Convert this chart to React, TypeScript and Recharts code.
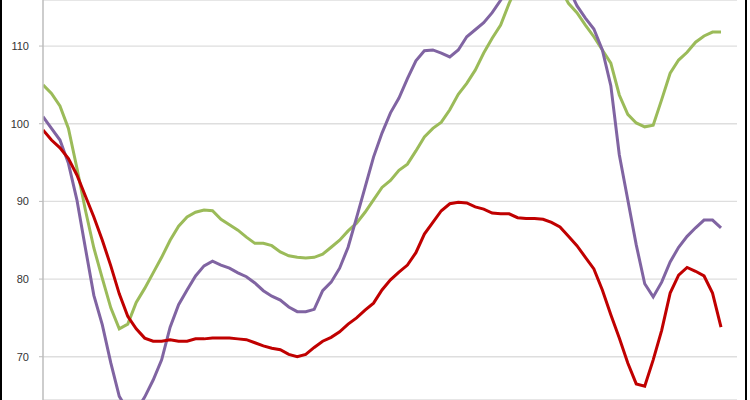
import React from "react";
import { LineChart, Line, XAxis, YAxis, CartesianGrid } from "recharts";

const greenValues = [
  105.0, 103.9, 102.3, 99.4, 94.3, 88.9, 84.0, 80.1, 76.3, 73.6,
  74.2, 77.0, 78.8, 80.8, 82.8, 85.0, 86.8, 88.0, 88.6, 88.9,
  88.8, 87.7, 87.0, 86.3, 85.4, 84.6, 84.6, 84.3, 83.5, 83.0,
  82.8, 82.7, 82.8, 83.2, 84.1, 85.0, 86.2, 87.2, 88.6, 90.2,
  91.8, 92.7, 94.0, 94.8, 96.5, 98.3, 99.4, 100.2, 101.8, 103.8,
  105.2, 106.9, 109.1, 111.0, 112.7, 115.5, 117.9, 119.1, 119.8, 119.8,
  119.1, 117.5, 115.5, 114.3, 112.7, 111.2, 109.5, 107.8, 103.7, 101.2,
  100.1, 99.6, 99.8, 103.1, 106.5, 108.2, 109.2, 110.5, 111.3, 111.8,
  111.8,
];

const purpleValues = [
  100.9, 99.4, 97.9, 94.9, 90.2, 84.0, 77.9, 74.1, 69.2, 64.9,
  63.1, 63.1, 64.8, 67.0, 69.6, 73.8, 76.7, 78.6, 80.4, 81.7,
  82.3, 81.8, 81.4, 80.8, 80.3, 79.5, 78.5, 77.8, 77.3, 76.4,
  75.8, 75.8, 76.1, 78.5, 79.6, 81.4, 84.1, 87.9, 91.8, 95.7,
  98.8, 101.4, 103.3, 105.8, 108.1, 109.4, 109.5, 109.1, 108.6, 109.5,
  111.2, 112.1, 113.0, 114.3, 115.9, 117.6, 119.0, 120.0, 120.7, 120.8,
  120.4, 119.3, 117.5, 115.2, 113.6, 112.2, 109.5, 104.9, 96.0, 90.2,
  84.4, 79.4, 77.7, 79.6, 82.2, 84.1, 85.5, 86.6, 87.6, 87.6,
  86.6,
];

const redValues = [
  99.2, 97.9, 96.9, 95.5, 93.4, 90.7, 88.0, 85.0, 81.7, 78.1,
  75.2, 73.6, 72.4, 72.0, 72.0, 72.2, 72.0, 72.0, 72.3, 72.3,
  72.4, 72.4, 72.4, 72.3, 72.2, 71.8, 71.4, 71.1, 70.9, 70.3,
  70.0, 70.3, 71.2, 72.0, 72.5, 73.2, 74.2, 75.0, 76.0, 76.9,
  78.6, 79.9, 80.9, 81.8, 83.4, 85.8, 87.3, 88.8, 89.7, 89.9,
  89.8, 89.3, 89.0, 88.5, 88.4, 88.4, 87.9, 87.8, 87.8, 87.7,
  87.3, 86.7, 85.5, 84.3, 82.8, 81.3, 78.6, 75.4, 72.4, 69.2,
  66.5, 66.2, 69.6, 73.4, 78.2, 80.5, 81.5, 81.0, 80.4, 78.2,
  73.8,
];

const yTicks = [70, 80, 90, 100, 110];

const data = greenValues.map((g, i) => ({
  idx: i,
  green: g,
  purple: purpleValues[i],
  red: redValues[i],
}));

export default function App() {
  return (
    <div
      style={{
        position: "absolute",
        left: 0,
        top: 0,
        width: 750,
        height: 400,
        background: "#ffffff",
        overflow: "hidden",
      }}
    >
      <LineChart
        width={750}
        height={400}
        data={data}
        margin={{ top: 0, right: 13, bottom: 0, left: 0 }}
      >
        <CartesianGrid vertical={false} stroke="#dedede" strokeWidth={1.3} />
        <XAxis
          dataKey="idx"
          type="number"
          domain={[0, 81.888]}
          hide
          allowDataOverflow
        />
        <YAxis
          width={43}
          domain={[64.43, 115.93]}
          ticks={yTicks}
          allowDataOverflow
          axisLine={{ stroke: "#bcbcbc", strokeWidth: 1.5 }}
          tickLine={{ stroke: "#bcbcbc" }}
          tickSize={4}
          tickMargin={10}
          tick={{ fill: "#333333", fontSize: 11, fontFamily: "Liberation Sans" }}
        />
        <Line
          type="linear"
          dataKey="green"
          stroke="#9BBB59"
          strokeWidth={3}
          dot={false}
          isAnimationActive={false}
        />
        <Line
          type="linear"
          dataKey="purple"
          stroke="#8064A2"
          strokeWidth={3}
          dot={false}
          isAnimationActive={false}
        />
        <Line
          type="linear"
          dataKey="red"
          stroke="#C00000"
          strokeWidth={3}
          dot={false}
          isAnimationActive={false}
        />
      </LineChart>
      <div
        style={{
          position: "absolute",
          left: 0,
          top: 0,
          width: 2,
          height: 400,
          background: "#000000",
        }}
      />
      <div
        style={{
          position: "absolute",
          left: 745,
          top: 0,
          width: 2,
          height: 400,
          background: "#000000",
        }}
      />
    </div>
  );
}
